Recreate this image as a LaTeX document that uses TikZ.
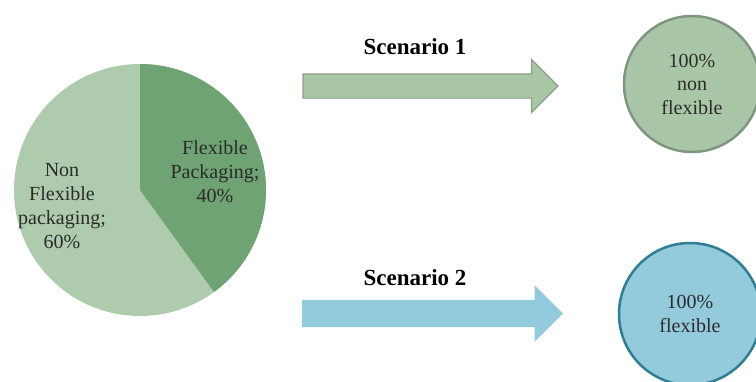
\documentclass[tikz,border=0pt]{standalone}
\usepackage{fontspec}
\setmainfont{Liberation Serif}
\usetikzlibrary{shapes.arrows}

\definecolor{pielight}{HTML}{AECBAE}
\definecolor{piedark}{HTML}{6FA373}
\definecolor{greenfill}{HTML}{A9C7A7}
\definecolor{greenedge}{HTML}{7F9580}
\definecolor{arrowedge}{HTML}{8C9B8C}
\definecolor{bluefill}{HTML}{93CADC}
\definecolor{blueedge}{HTML}{2F7E93}
\definecolor{labeltext}{HTML}{2B2B2B}

\tikzset{
    pielabel/.style={align=center, inner sep=0pt, text=labeltext, font=\fontsize{20}{24}\selectfont},
    scenlabel/.style={inner sep=0pt, font=\fontsize{23}{24}\selectfont\bfseries},
    bigarrow/.style={single arrow, inner xsep=0pt, inner ysep=#1,
                     single arrow head extend=14.5pt, single arrow tip angle=90},
    outcome/.style={circle, align=center, inner sep=0pt, line width=2.5pt, text=labeltext,
                    font=\fontsize{20}{23.5}\selectfont}
}

\begin{document}
\begin{tikzpicture}[x=1pt,y=-1pt]
    \useasboundingbox (0,0) rectangle (756,381);

    % pie chart
    \fill[pielight] (140,190) circle (126);
    \fill[piedark] (140,190) -- ++(0,-126) arc[start angle=-90, end angle=54, radius=126] -- cycle;
    \node[pielabel] (flexlbl) at (215,172) {Flexible\\Packaging;\\40\%};
    \node[pielabel] (nonflexlbl) at (62,206) {Non\\Flexible\\packaging;\\60\%};

    % scenario 1
    \node[scenlabel] (scenA) at (415,47) {Scenario 1};
    \node[bigarrow=11.5pt, fill=greenfill, draw=arrowedge, line width=1.2pt,
          minimum height=255pt] (arrA) at (424.5,86) {};
    \node[outcome, fill=greenfill, draw=greenedge, minimum size=136pt] (nonflex) at (692,84)
        {100\%\\non\\flexible};

    % scenario 2
    \node[scenlabel] (scenB) at (415,278) {Scenario 2};
    \node[bigarrow=13.5pt, fill=bluefill, minimum height=261pt] (arrB)
        at (425.5,313.5) {};
    \node[outcome, fill=bluefill, draw=blueedge, minimum size=142pt] (flex) at (690,314)
        {100\%\\flexible};
\end{tikzpicture}
\end{document}
